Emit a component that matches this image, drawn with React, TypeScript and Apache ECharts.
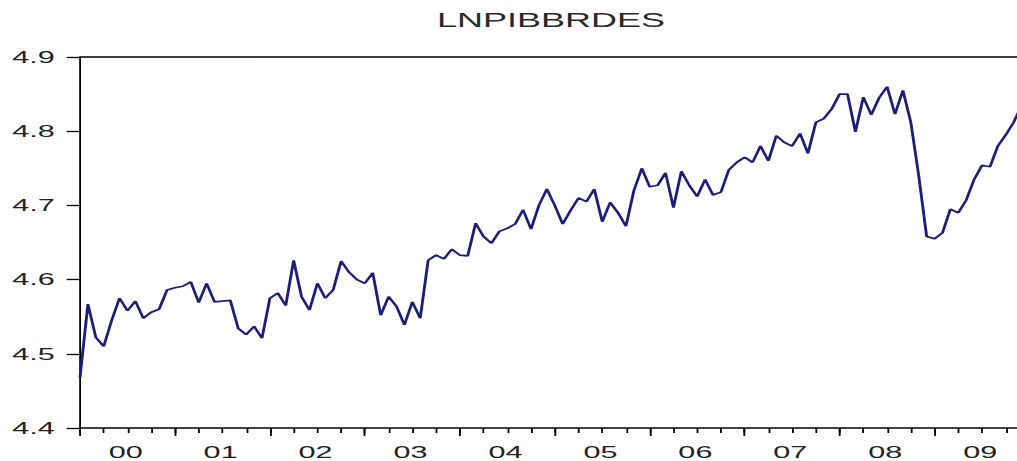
import { useEffect, useRef } from "react";
import * as echarts from "echarts";

// Monthly log index, 2000-01 .. 2009-12
const yearCodes = ["00", "01", "02", "03", "04", "05", "06", "07", "08", "09"];
const v2000 = [4.468, 4.567, 4.522, 4.51, 4.545, 4.575, 4.558, 4.571, 4.548, 4.556, 4.56, 4.586];
const v2001 = [4.589, 4.591, 4.597, 4.569, 4.595, 4.57, 4.571, 4.572, 4.534, 4.526, 4.537, 4.521];
const v2002 = [4.575, 4.582, 4.565, 4.626, 4.577, 4.559, 4.595, 4.575, 4.586, 4.625, 4.61, 4.6];
const v2003 = [4.595, 4.609, 4.552, 4.577, 4.564, 4.539, 4.57, 4.548, 4.626, 4.633, 4.628, 4.641];
const v2004 = [4.633, 4.632, 4.676, 4.658, 4.649, 4.665, 4.669, 4.675, 4.694, 4.668, 4.7, 4.722];
const v2005 = [4.7, 4.675, 4.693, 4.71, 4.705, 4.722, 4.678, 4.704, 4.69, 4.672, 4.72, 4.75];
const v2006 = [4.725, 4.727, 4.744, 4.697, 4.746, 4.727, 4.712, 4.735, 4.714, 4.718, 4.748, 4.758];
const v2007 = [4.765, 4.758, 4.78, 4.76, 4.794, 4.785, 4.78, 4.797, 4.77, 4.812, 4.817, 4.83];
const v2008 = [4.85, 4.85, 4.799, 4.846, 4.822, 4.845, 4.86, 4.823, 4.855, 4.812, 4.74, 4.658];
const v2009 = [4.655, 4.663, 4.695, 4.69, 4.707, 4.735, 4.754, 4.752, 4.78, 4.795, 4.812, 4.835];

const yTicks = [4.4, 4.5, 4.6, 4.7, 4.8, 4.9];
const title = "LNPIBBRDES";

const months: string[] = [];
yearCodes.forEach((yc) => {
  for (let m = 1; m <= 12; m++) months.push(`${yc}-${String(m).padStart(2, "0")}`);
});
const values = [
  ...v2000, ...v2001, ...v2002, ...v2003, ...v2004,
  ...v2005, ...v2006, ...v2007, ...v2008, ...v2009,
];

// The chart is laid out narrow and stretched horizontally
const SX = 1.8;
const OUTER_W = 1030;
const H = 461;
const PLOT_L = 80;
const PLOT_R = 1022;
const FONT = "'Liberation Sans', Arial, sans-serif";

export default function App() {
  const ref = useRef<HTMLDivElement>(null);

  useEffect(() => {
    const chart = echarts.init(ref.current!, null, { renderer: "svg" });
    const axisColor = "#000";
    const labelStyle = { fontFamily: FONT, fontSize: 17, color: "#222" };
    chart.setOption({
      animation: false,
      backgroundColor: "#fff",
      grid: {
        left: PLOT_L / SX,
        right: (OUTER_W - PLOT_R) / SX,
        top: 57,
        bottom: 33,
        containLabel: false,
      },
      graphic: [
        {
          type: "text",
          x: (PLOT_L + PLOT_R) / 2 / SX,
          y: 20,
          style: {
            text: title,
            fontFamily: FONT,
            fontSize: 20,
            fill: "#2a2a2a",
            textAlign: "center",
            textVerticalAlign: "middle",
          },
        },
      ],
      xAxis: [
        {
          type: "category",
          data: months,
          boundaryGap: false,
          position: "bottom",
          axisLine: { show: true, lineStyle: { color: axisColor, width: 1.6 } },
          axisTick: {
            show: true,
            length: 5,
            interval: (i: number) => i % 3 === 0,
            lineStyle: { color: axisColor, width: 1 },
          },
          axisLabel: { show: false },
          splitLine: { show: false },
        },
        {
          type: "category",
          data: months,
          boundaryGap: false,
          position: "bottom",
          axisLine: { show: false },
          axisTick: {
            show: true,
            length: 8,
            interval: (i: number) => i % 12 === 0,
            lineStyle: { color: axisColor, width: 1 },
          },
          axisLabel: {
            show: true,
            interval: (i: number) => i % 12 === 6,
            formatter: (v: string) => v.slice(0, 2),
            margin: 16,
            padding: [0, 2, 0, 0],
            ...labelStyle,
          },
          splitLine: { show: false },
        },
        {
          type: "category",
          data: months,
          boundaryGap: false,
          position: "top",
          axisLine: { show: true, lineStyle: { color: axisColor, width: 1.5 } },
          axisTick: { show: false },
          axisLabel: { show: false },
          splitLine: { show: false },
        },
      ],
      yAxis: {
        type: "value",
        min: yTicks[0],
        max: yTicks[yTicks.length - 1],
        interval: 0.1,
        axisLine: { show: true, lineStyle: { color: axisColor, width: 1 } },
        axisTick: { show: true, length: 7.4, lineStyle: { color: axisColor, width: 1.3 } },
        axisLabel: {
          margin: 14,
          formatter: (v: number) => v.toFixed(1),
          ...labelStyle,
        },
        splitLine: { show: false },
      },
      series: [
        {
          type: "line",
          xAxisIndex: 0,
          data: values,
          showSymbol: false,
          symbol: "none",
          lineStyle: { color: "#1e1e78", width: 1.6 },
        },
      ],
    });
    return () => chart.dispose();
  }, []);

  return (
    <div
      style={{
        position: "fixed",
        left: 0,
        top: 0,
        width: 1017,
        height: H,
        overflow: "hidden",
        background: "#fff",
      }}
    >
      <div
        ref={ref}
        style={{
          width: OUTER_W / SX,
          height: H,
          transform: `scaleX(${SX})`,
          transformOrigin: "0 0",
        }}
      />
    </div>
  );
}
